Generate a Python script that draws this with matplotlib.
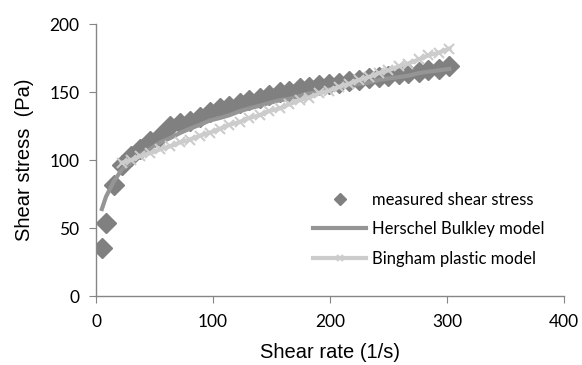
import matplotlib
matplotlib.use("Agg")
import matplotlib.pyplot as plt

shear_rate = [5, 8.5, 15, 22, 30, 38, 46, 55, 63, 72, 80, 89, 97, 106, 114, 123, 131, 140,
              148, 157, 165, 174, 182, 191, 199, 208, 216, 225, 233, 242, 250, 259, 267,
              276, 284, 293, 302]
measured = [35, 54, 82, 96, 103, 108, 114, 118, 125, 127, 129, 132, 135, 138, 140, 142, 144, 146,
            148, 150, 151, 153, 154, 155, 156, 157, 158, 159, 160, 161, 162, 163, 164,
            165, 166, 167, 169]
herschel = [64, 73, 84, 93, 98, 104, 108, 113, 116, 120, 123, 126, 129, 131, 133, 136, 138, 140,
            142, 144, 145, 147, 149, 150, 152, 153, 155, 156, 157, 159, 160, 161, 162,
            164, 165, 166, 167]
bingham_rate = shear_rate[3:]
bingham = [98, 100, 103, 105, 108, 110, 113, 115, 118, 120, 123, 126, 128, 131, 133, 136,
           138, 141, 144, 146, 149, 151, 154, 156, 159, 161, 164, 166, 169, 171, 174, 177,
           179, 182]

x_ticks = [0, 100, 200, 300, 400]
y_ticks = [0, 50, 100, 150, 200]

fig = plt.figure(figsize=(5.82, 3.65), dpi=100)
ax = fig.add_axes([0.165, 0.189, 0.804, 0.745])

ax.plot(shear_rate, measured, linestyle='none', marker='D', markersize=10,
        color='#808080', label='measured shear stress', zorder=2)
ax.plot(shear_rate, herschel, color='#959595', linewidth=3, label='Herschel Bulkley model', zorder=3)
ax.plot(bingham_rate, bingham, color='#cccccc', linewidth=3, marker='x', markersize=7,
        markeredgewidth=1.5, label='Bingham plastic model', zorder=4)

ax.set_xlim(0, 400)
ax.set_ylim(0, 200)
ax.set_xticks(x_ticks)
ax.set_yticks(y_ticks)
for s in ['top', 'right']:
    ax.spines[s].set_visible(False)
for s in ['left', 'bottom']:
    ax.spines[s].set_color('#868686')
    ax.spines[s].set_linewidth(1.0)
ax.tick_params(direction='out', length=5, color='#868686', labelsize=12.5, pad=8)
ax.tick_params(axis='y', pad=7)
for lab in ax.get_xticklabels() + ax.get_yticklabels():
    lab.set_family('Lato')

ax.set_xlabel('Shear rate (1/s)', fontsize=14.5, family='Liberation Sans', labelpad=9)
ax.set_ylabel('Shear stress  (Pa)', fontsize=14.5, family='Liberation Sans', labelpad=11)

leg = ax.legend(loc='upper left', bbox_to_anchor=(313 / 582, 1 - 192 / 365),
                bbox_transform=fig.transFigure, frameon=False, borderpad=0, borderaxespad=0,
                prop={'family': 'Lato', 'size': 12}, markerscale=0.6,
                handlelength=3.2, labelspacing=0.8, handletextpad=0.35)

fig.savefig('out.png', dpi=100)
